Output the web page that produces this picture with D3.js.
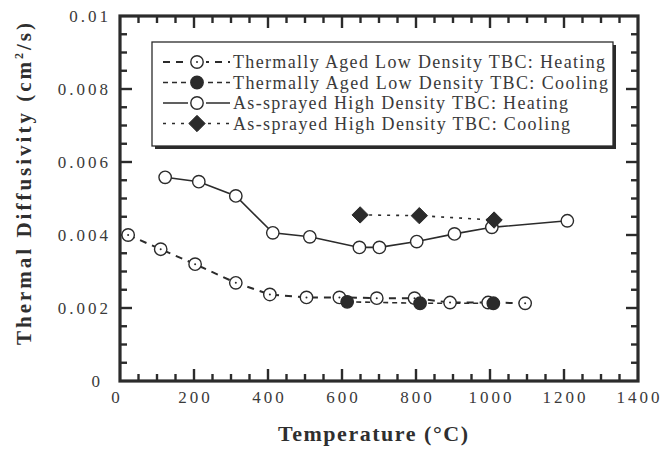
<!DOCTYPE html>
<html>
<head>
<meta charset="utf-8">
<script src="https://cdn.jsdelivr.net/npm/d3@7"></script>
<style>
  body { margin: 0; background: #fff; }
  svg { display: block; }
  svg text { font-family: "Liberation Serif", Tinos, "Times New Roman", Times, "Nimbus Roman", "Nimbus Roman No9 L", "Noto Serif", "DejaVu Serif", FreeSerif, serif; }
</style>
</head>
<body>
<script>
const W = 665, H = 452;
const margin = {top: 16, right: 27, bottom: 71, left: 120};

// temperatures (°C) and diffusivities (cm^2/s)
const lowHeatT = [22, 110, 203, 313, 405, 504, 593, 694, 796, 892, 995, 1095];
const lowHeatD = [0.00400, 0.00361, 0.00320, 0.00269, 0.00237, 0.00229, 0.00229, 0.00227, 0.00227, 0.00215, 0.00215, 0.00213];
const lowCoolT = [614, 811, 1009];
const lowCoolD = [0.00217, 0.00213, 0.00213];
const highHeatT = [122, 213, 313, 413, 513, 647, 701, 802, 904, 1005, 1209];
const highHeatD = [0.00558, 0.00546, 0.00507, 0.00406, 0.00395, 0.00366, 0.00366, 0.00382, 0.00403, 0.00421, 0.00439];
const highCoolT = [649, 809, 1011];
const highCoolD = [0.00455, 0.00453, 0.00441];

const xTicks = [0, 200, 400, 600, 800, 1000, 1200, 1400];
const yTicks = [0, 0.002, 0.004, 0.006, 0.008, 0.01];
const yTickLabels = ["0", "0.002", "0.004", "0.006", "0.008", "0.01"];

const legendLabels = [
  "Thermally Aged Low Density TBC: Heating",
  "Thermally Aged Low Density TBC: Cooling",
  "As-sprayed High Density TBC: Heating",
  "As-sprayed High Density TBC: Cooling"
];

const ink = "#2b2b2b";

const svg = d3.select("body").append("svg")
  .attr("width", W).attr("height", H);

const x = d3.scaleLinear().domain([0, 1400]).range([margin.left, W - margin.right]);
const y = d3.scaleLinear().domain([0, 0.01]).range([H - margin.bottom, margin.top]);

const zip = (a, b) => a.map((v, i) => [v, b[i]]);

const series = [
  {pts: zip(lowHeatT, lowHeatD), dash: "7,6", width: 2, marker: "dotcircle"},
  {pts: zip(lowCoolT, lowCoolD), dash: "5,4", width: 1.6, marker: "filled"},
  {pts: zip(highHeatT, highHeatD), dash: null, width: 1.6, marker: "open"},
  {pts: zip(highCoolT, highCoolD), dash: "3,6", width: 1.6, marker: "diamond"}
];

// minor / major ticks, inward on all four sides
const xMinor = d3.range(50, 1400, 50);
const yMinor = d3.range(0.0005, 0.01, 0.0005);
const ticks = svg.append("g").attr("stroke", ink);

function tickLen(isMajor) { return isMajor ? 12 : 7; }

xMinor.forEach(t => {
  const major = Math.abs(t % 200) < 1e-6;
  const l = tickLen(major);
  ticks.append("line").attr("x1", x(t)).attr("x2", x(t))
    .attr("y1", y(0)).attr("y2", y(0) - l).attr("stroke-width", 2.4);
  ticks.append("line").attr("x1", x(t)).attr("x2", x(t))
    .attr("y1", y(0.01)).attr("y2", y(0.01) + l).attr("stroke-width", 2.4);
});
yMinor.forEach(t => {
  const major = Math.abs(Math.round(t * 10000) % 20) === 0;
  const l = tickLen(major);
  ticks.append("line").attr("y1", y(t)).attr("y2", y(t))
    .attr("x1", x(0)).attr("x2", x(0) + l).attr("stroke-width", 2.4);
  ticks.append("line").attr("y1", y(t)).attr("y2", y(t))
    .attr("x1", x(1400)).attr("x2", x(1400) - l).attr("stroke-width", 2.4);
});

// frame
svg.append("rect")
  .attr("x", x(0)).attr("y", y(0.01))
  .attr("width", x(1400) - x(0)).attr("height", y(0) - y(0.01))
  .attr("fill", "none").attr("stroke", ink).attr("stroke-width", 3.2);

// tick labels
svg.append("g").attr("fill", "#3a3a3a").selectAll("text")
  .data(xTicks).enter().append("text")
  .attr("x", d => x(d) + (d === 0 ? -3 : 1.5))
  .attr("y", 403)
  .attr("text-anchor", "middle")
  .attr("font-size", 17)
  .attr("letter-spacing", 3)
  .text(d => d);

svg.append("g").attr("fill", "#3a3a3a").selectAll("text")
  .data(yTicks).enter().append("text")
  .attr("x", d => d === 0 ? 103 : 111)
  .attr("y", d => y(d) + 6)
  .attr("text-anchor", "end")
  .attr("font-size", 17)
  .attr("letter-spacing", 3)
  .text((d, i) => yTickLabels[i]);

// axis titles
svg.append("text")
  .attr("x", 278).attr("y", 441)
  .attr("fill", "#2f2f2f")
  .attr("font-size", 22).attr("font-weight", "bold")
  .attr("textLength", 190).attr("lengthAdjust", "spacing")
  .text("Temperature (°C)");

const yl = svg.append("text")
  .attr("transform", "translate(31,345) rotate(-90)")
  .attr("fill", "#2f2f2f")
  .attr("font-size", 21).attr("font-weight", "bold")
  .attr("textLength", 322).attr("lengthAdjust", "spacing");
yl.append("tspan").text("Thermal Diffusivity  (cm");
yl.append("tspan").attr("font-size", 12).attr("dy", -8).text("2");
yl.append("tspan").attr("dy", 8).text("/s)");

// markers
function drawMarker(g, kind, cx, cy) {
  if (kind === "diamond") {
    g.append("path")
      .attr("d", d3.symbol().type(d3.symbolDiamond2).size(170)())
      .attr("transform", `translate(${cx},${cy})`)
      .attr("fill", ink).attr("stroke", ink).attr("stroke-width", 1);
    return;
  }
  g.append("circle").attr("cx", cx).attr("cy", cy).attr("r", 6.2)
    .attr("fill", kind === "filled" ? ink : "#fff")
    .attr("stroke", ink).attr("stroke-width", 1.4);
  if (kind === "dotcircle") {
    g.append("circle").attr("cx", cx).attr("cy", cy).attr("r", 1)
      .attr("fill", ink);
  }
}

const line = d3.line().x(d => x(d[0])).y(d => y(d[1]));

series.forEach(s => {
  svg.append("path").datum(s.pts)
    .attr("d", line)
    .attr("fill", "none").attr("stroke", ink)
    .attr("stroke-width", s.width)
    .attr("stroke-dasharray", s.dash);
});
series.forEach(s => {
  const g = svg.append("g");
  s.pts.forEach(p => drawMarker(g, s.marker, x(p[0]), y(p[1])));
});

// legend
const lg = svg.append("g");
lg.append("rect").attr("x", 155).attr("y", 45).attr("width", 461).attr("height", 104)
  .attr("fill", ink);
lg.append("rect").attr("x", 152).attr("y", 42).attr("width", 461).attr("height", 104)
  .attr("fill", "#fff").attr("stroke", ink).attr("stroke-width", 1.3);

const legendEnds = [605, 608, 568, 570];
series.forEach((s, i) => {
  const cy = 62 + i * 20.5;
  lg.append("line").attr("x1", 163).attr("x2", 230).attr("y1", cy).attr("y2", cy)
    .attr("stroke", ink).attr("stroke-width", s.width)
    .attr("stroke-dasharray", s.dash);
  lg.append("rect").attr("x", 188).attr("y", cy - 8).attr("width", 18).attr("height", 16)
    .attr("fill", "#fff");
  drawMarker(lg, s.marker, 197, cy);
  lg.append("text")
    .attr("x", 233).attr("y", cy + 6)
    .attr("fill", "#3a3a3a")
    .attr("font-size", 18)
    .attr("textLength", legendEnds[i] - 233).attr("lengthAdjust", "spacing")
    .text(legendLabels[i]);
});
</script>
</body>
</html>
